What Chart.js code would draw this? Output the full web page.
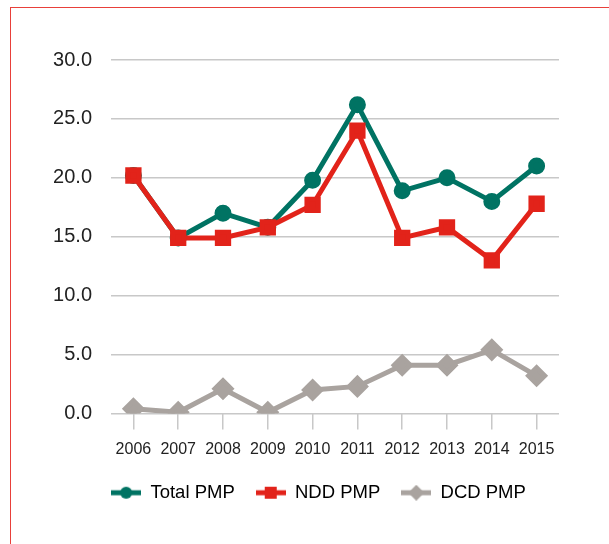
<!DOCTYPE html>
<html><head><meta charset="utf-8">
<script src="https://cdn.jsdelivr.net/npm/chart.js@4"></script>
<style>
html,body{margin:0;padding:0;background:#fff;overflow:hidden;}
#frame{position:absolute;left:10px;top:7px;width:620px;height:560px;border:1px solid #e8403a;}
#wrap{position:absolute;left:0;top:0;width:609px;height:544px;}
</style></head><body>
<div id="frame"></div>
<div id="wrap"><canvas id="c" width="609" height="544"></canvas></div>
<script>
const years = ['2006','2007','2008','2009','2010','2011','2012','2013','2014','2015'];
const totalPMP = [20.2, 14.9, 17.0, 15.8, 19.8, 26.2, 18.9, 20.0, 18.0, 21.0];
const nddPMP   = [20.2, 14.9, 14.9, 15.8, 17.7, 24.0, 14.9, 15.8, 13.0, 17.8];
const dcdPMP   = [0.4, 0.1, 2.1, 0.1, 2.0, 2.3, 4.1, 4.1, 5.4, 3.2];
const yTicks = [0, 5, 10, 15, 20, 25, 30];

const GREEN = '#007363', RED = '#e2231a', GRAY = '#a9a39f';
const FONT = "'Liberation Sans', Arial, sans-serif";
const TXT = '#222222';

function legendIcon(color, shape){
  const c = document.createElement('canvas');
  c.width = 30; c.height = 16;
  const x = c.getContext('2d');
  x.strokeStyle = color; x.fillStyle = color; x.lineWidth = 5;
  x.beginPath(); x.moveTo(0,8); x.lineTo(30,8); x.stroke();
  if (shape === 'circle'){ x.beginPath(); x.arc(15,8,6,0,Math.PI*2); x.fill(); }
  else if (shape === 'rect'){ x.fillRect(9,2,12,12); }
  else { x.beginPath(); x.moveTo(15,0); x.lineTo(23,8); x.lineTo(15,16); x.lineTo(7,8); x.closePath(); x.fill(); }
  return c;
}

const shiftLegend = {
  id: 'shiftLegend',
  afterLayout(chart){
    const lg = chart.legend;
    if (!lg) return;
    lg.left += 39; lg.right += 39;
    lg.top -= 3; lg.bottom -= 3;
  }
};

new Chart(document.getElementById('c'), {
  type: 'line',
  plugins: [shiftLegend],
  data: {
    labels: years,
    datasets: [
      {label:'Total PMP', data: totalPMP, borderColor: GREEN, backgroundColor: GREEN, borderWidth: 5,
       pointStyle:'circle', pointRadius: 6, pointHoverRadius: 6, legendIcon: legendIcon(GREEN,'circle')},
      {label:'NDD PMP', data: nddPMP, borderColor: RED, backgroundColor: RED, borderWidth: 5,
       pointStyle:'rect', pointRadius: 8, pointHoverRadius: 8, legendIcon: legendIcon(RED,'rect')},
      {label:'DCD PMP', data: dcdPMP, borderColor: GRAY, backgroundColor: GRAY, borderWidth: 5,
       pointStyle:'rectRot', pointRadius: 8, pointHoverRadius: 8, legendIcon: legendIcon(GRAY,'diamond')}
    ].reverse()
  },
  options: {
    responsive: false,
    animation: false,
    layout: { padding: { left: 0, right: 50, top: 60, bottom: 29 } },
    plugins: {
      tooltip: { enabled: false },
      legend: {
        position: 'bottom',
        reverse: true,
        labels: {
          usePointStyle: true,
          pointStyleWidth: 30,
          padding: 21,
          color: TXT,
          font: { family: FONT, size: 18.5 },
          generateLabels(chart){
            return chart.data.datasets.map((ds,i)=>({
              text: ds.label, pointStyle: ds.legendIcon, fillStyle: ds.borderColor,
              strokeStyle: ds.borderColor, lineWidth: 0, hidden: false, datasetIndex: i
            }));
          }
        }
      }
    },
    scales: {
      x: {
        offset: true,
        grid: { offset: false, drawOnChartArea: false, drawTicks: true, tickLength: 16, color: '#c8c8c8', lineWidth: 1.5 },
        border: { display: false },
        ticks: { color: TXT, font: { family: FONT, size: 16 }, padding: 10, maxRotation: 0 },
        afterFit(s){ s.height = 52; }
      },
      y: {
        min: 0, max: 30,
        afterBuildTicks(s){ s.ticks = yTicks.map(v=>({value:v})); },
        grid: { drawTicks: false, color: '#c8c8c8', lineWidth: 1.5 },
        border: { display: false },
        ticks: { color: TXT, font: { family: FONT, size: 20 }, padding: 19,
                 callback: v => v.toFixed(1) },
        afterFit(s){ s.width = 111; }
      }
    }
  }
});
</script>
</body></html>
